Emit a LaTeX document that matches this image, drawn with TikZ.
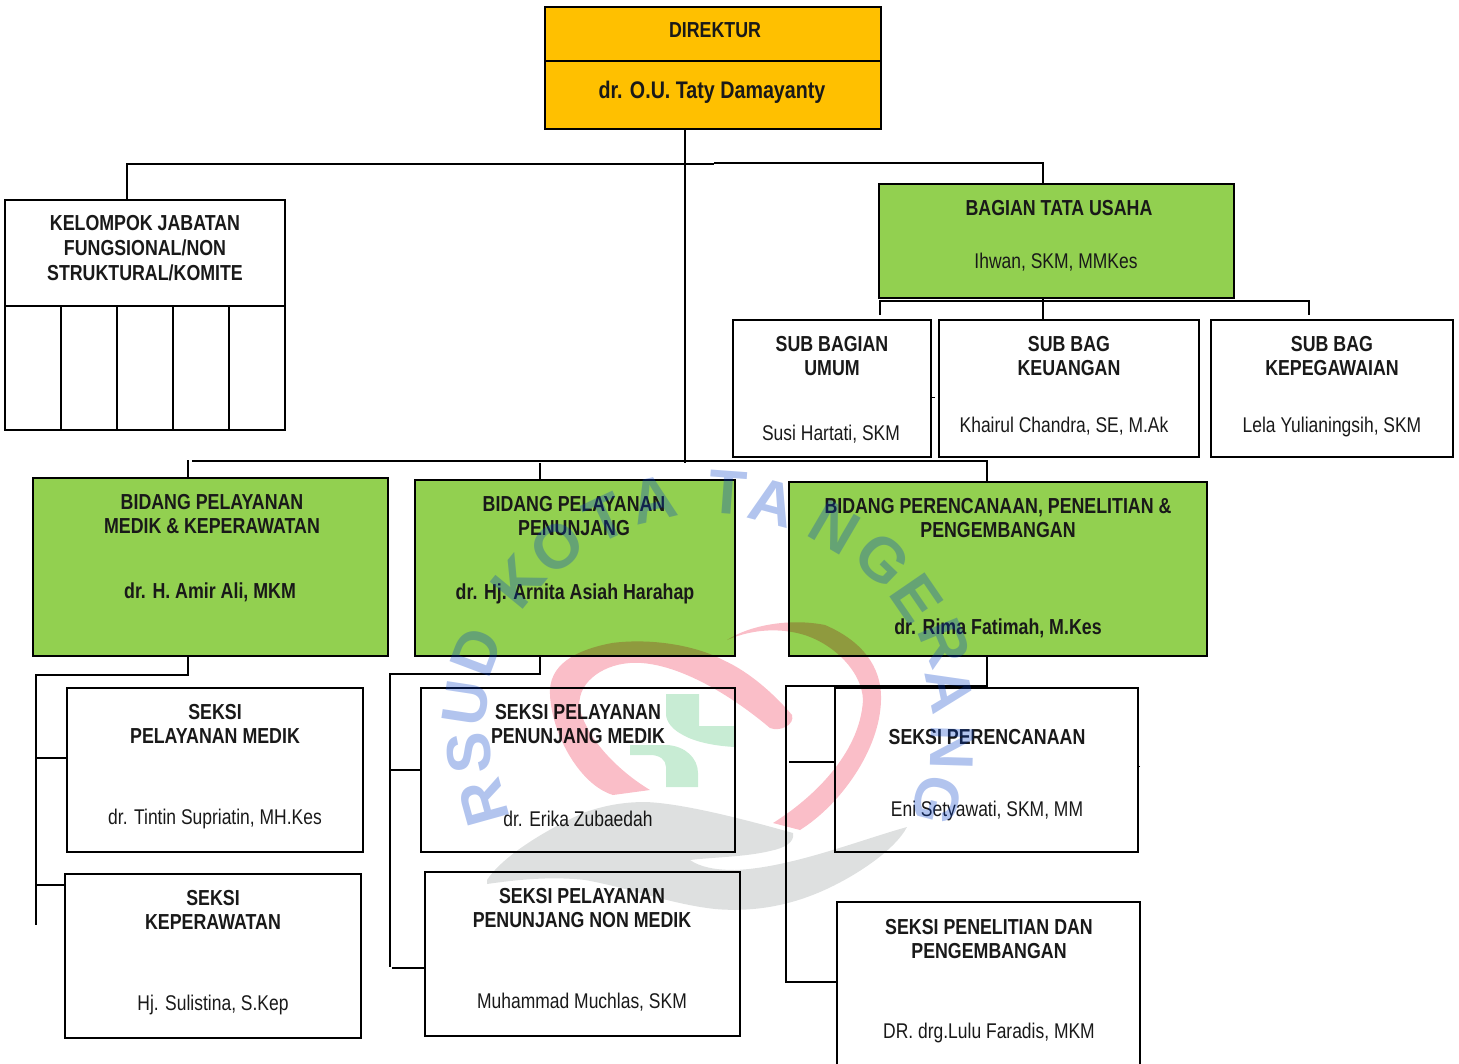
\documentclass[tikz,border=0pt]{standalone}
\usepackage{fontspec}
\setmainfont[FakeStretch=0.82]{Liberation Sans}
\newfontfamily\wmfont{Liberation Sans}
\definecolor{gold}{RGB}{255,192,0}
\definecolor{leaf}{RGB}{146,208,80}
\definecolor{wmblue}{RGB}{0,60,200}
\definecolor{wmred}{RGB}{250,190,200}
\definecolor{wmgreen}{RGB}{200,236,212}
\definecolor{wmgray}{RGB}{222,224,224}
\usetikzlibrary{calc}
\tikzset{
  x=1pt,y=-1pt,
  boxn/.style={draw=black,line width=2pt,inner sep=0pt,outer sep=0pt,rectangle},
  link/.style={draw=black,line width=2pt},
  head/.style={font=\bfseries\fontsize{21.7}{24.7}\selectfont,align=center,inner sep=0pt,text=black!90},
  body/.style={font=\fontsize{21.3}{24.7}\selectfont,align=center,inner sep=0pt,text=black!90},
  big/.style={font=\bfseries\fontsize{24}{26}\selectfont,align=center,inner sep=0pt,text=black!90},
  wml/.style={font=\wmfont\bfseries\fontsize{62}{62}\selectfont,text=wmblue,text opacity=0.3,inner sep=0pt},
}
\newcommand{\bx}[6]{%
  \pgfmathsetmacro{\bw}{#4-#2}\pgfmathsetmacro{\bh}{#5-#3}%
  \pgfmathsetmacro{\bcx}{(#2+#4)/2}\pgfmathsetmacro{\bcy}{(#3+#5)/2}%
  \node[boxn,minimum width=\bw pt,minimum height=\bh pt,#6] (#1) at (\bcx,\bcy) {};}
\begin{document}
\begin{tikzpicture}
\useasboundingbox (0,0) rectangle (1459,1063);
% boxes
\bx{dir}{545}{7}{881}{129}{fill=gold}
\bx{kel}{5}{200}{285}{430}{}
\bx{btu}{879}{184}{1234}{298}{fill=leaf}
\bx{sbu}{733}{320}{931}{457}{}
\bx{keu}{939}{320}{1199}{457}{}
\bx{kep}{1211}{320}{1453}{457}{}
\bx{bm}{33}{478}{388}{656}{fill=leaf}
\bx{bp}{415}{480}{735}{656}{fill=leaf}
\bx{bpp}{789}{482}{1207}{656}{fill=leaf}
\bx{sa}{67}{688}{363}{852}{}
\bx{sb}{65}{874}{361}{1038}{}
\bx{sc}{421}{688}{735}{852}{}
\bx{sd}{425}{872}{740}{1036}{}
\bx{se}{835}{688}{1138}{852}{}
\bx{sf}{837}{902}{1140}{1067}{}
% dividers
\draw[link] (545,61) -- (881,61);
\draw[link] (5,306) -- (285,306);
\foreach \vx in {61,117,173,229} \draw[link] (\vx,306) -- (\vx,430);
% connector coordinates
\coordinate (tk) at (685,164);
\coordinate (tkend) at (685,463);
\coordinate (lft) at (127,164);
\coordinate (mid) at (714,164);
\coordinate (midb) at (714,163);
\coordinate (rgt) at (1043,163);
\coordinate (ua) at (880,301);
\coordinate (ub) at (1043,301);
\coordinate (uc) at (1309,301);
\coordinate (uae) at (880,315);
\coordinate (uce) at (1309,315);
\coordinate (ba) at (188,460);
\coordinate (bb) at (192,461);
\coordinate (bc) at (540,463);
\coordinate (bd) at (987,461);
\coordinate (ma) at (188,675);
\coordinate (mb) at (36,675);
\coordinate (mc) at (36,925);
\coordinate (md) at (36,758);
\coordinate (me) at (36,885);
\coordinate (pa) at (540,674);
\coordinate (pb) at (390,674);
\coordinate (pc) at (390,967);
\coordinate (pd) at (390,770);
\coordinate (pe) at (392,968);
\coordinate (ra) at (987,686);
\coordinate (rb) at (786,686);
\coordinate (rc) at (786,982);
\coordinate (rd) at (789,762);
% connectors
\draw[link,line width=1.2pt] (dir.south -| tk) -- (tkend);
\draw[link] (kel.north -| lft) -- (lft) -- (mid);
\draw[link] (midb) -- (rgt) -- (btu.north -| rgt);
\draw[link] (btu.south -| ub) -- (keu.north -| ub);
\draw[link] (uae) -- (ua) -- (uc) -- (uce);
\draw[link] (ba) -- (bm.north -| ba);
\draw[link] (bb) -- (bd) -- (bpp.north -| bd);
\draw[link] (bc) -- (bp.north -| bc);
\draw[link] (bm.south -| ma) -- (ma) -- (mb) -- (mc);
\draw[link] (md) -- (sa.west |- md);
\draw[link] (me) -- (sb.west |- me);
\draw[link] (bp.south -| pa) -- (pa) -- (pb) -- (pc);
\draw[link] (pd) -- (sc.west |- pd);
\draw[link] (pe) -- (sd.west |- pe);
\draw[link] (bpp.south -| ra) -- (ra) -- (rb) -- (rc) -- (sf.west |- rc);
\draw[link] (rd) -- (se.west |- rd);
% texts
\node[head] (tdir) at (715,30) {DIREKTUR};
\node[big] (tdirn) at (712,92) {dr. O.U. Taty Damayanty};
\node[head] (tkel) at (145,248) {KELOMPOK JABATAN\\FUNGSIONAL/NON\\STRUKTURAL/KOMITE};
\node[head] (tbtu) at (1059,208) {BAGIAN TATA USAHA};
\node[body] (tbtun) at (1056,262.5) {Ihwan, SKM, MMKes};
\node[head] (tsbu) at (832,356) {SUB BAGIAN\\UMUM};
\node[body] (tsbun) at (831,434.5) {Susi Hartati, SKM};
\node[head] (tkeu) at (1069,356) {SUB BAG\\KEUANGAN};
\node[body] (tkeun) at (1064,426.5) {Khairul Chandra, SE, M.Ak};
\node[head] (tkep) at (1332,356) {SUB BAG\\KEPEGAWAIAN};
\node[body] (tkepn) at (1332,426.5) {Lela Yulianingsih, SKM};
\node[head] (tbm) at (212,514) {BIDANG PELAYANAN\\MEDIK \& KEPERAWATAN};
\node[head] (tbmn) at (210,592) {dr. H. Amir Ali, MKM};
\node[head] (tbp) at (574,516) {BIDANG PELAYANAN\\PENUNJANG};
\node[head] (tbpn) at (575,594) {dr. Hj. Arnita Asiah Harahap};
\node[head] (tbpp) at (998,518) {BIDANG PERENCANAAN, PENELITIAN \&\\PENGEMBANGAN};
\node[head] (tbppn) at (998,628) {dr. Rima Fatimah, M.Kes};
\node[head] (tsa) at (215,724) {SEKSI\\PELAYANAN MEDIK};
\node[body] (tsan) at (215,818.5) {dr. Tintin Supriatin, MH.Kes};
\node[head] (tsb) at (213,910) {SEKSI\\KEPERAWATAN};
\node[body] (tsbn) at (213,1004.5) {Hj. Sulistina, S.Kep};
\node[head] (tsc) at (578,724) {SEKSI PELAYANAN\\PENUNJANG MEDIK};
\node[body] (tscn) at (578,818.5) {dr. Erika Zubaedah};
\node[head] (tsd) at (582,908) {SEKSI PELAYANAN\\PENUNJANG NON MEDIK};
\node[body] (tsdn) at (582,1002.5) {Muhammad Muchlas, SKM};
\node[head] (tse) at (987,737) {SEKSI PERENCANAAN};
\node[body] (tsen) at (987,810.5) {Eni Setyawati, SKM, MM};
\node[head] (tsf) at (989,939) {SEKSI PENELITIAN DAN\\PENGEMBANGAN};
\node[body] (tsfn) at (989,1032.5) {DR. drg.Lulu Faradis, MKM};
% watermark
\begin{scope}[blend mode=multiply]
\fill[wmgray] (487,880) .. controls (500,860) and (535,835) .. (583,813)
  .. controls (605,805) and (625,802) .. (645,802)
  .. controls (680,803) and (740,818) .. (793,833)
  .. controls (795,842) and (785,848) .. (770,851)
  .. controls (745,857) and (715,857) .. (690,860)
  .. controls (700,867) and (715,870) .. (735,870)
  .. controls (790,868) and (860,840) .. (907,827)
  .. controls (895,850) and (855,877) .. (820,892)
  .. controls (785,907) and (750,912) .. (715,909)
  .. controls (670,904) and (630,888) .. (585,880)
  .. controls (550,876) and (515,880) .. (487,884) -- cycle;
\fill[wmgreen] (666,694) -- (699,694) -- (699,726) -- (735,726) -- (735,747)
  .. controls (715,746) and (695,742) .. (683,735)
  .. controls (673,730) and (666,722) .. (666,714) -- cycle;
\fill[wmgreen] (630,745) -- (667,745) .. controls (685,746) and (698,758) .. (698,773)
  -- (698,787) -- (666,787) -- (666,767) .. controls (666,760) and (660,755) .. (650,755)
  -- (630,755) -- cycle;
\fill[wmred] (792,715) .. controls (775,695) and (750,672) .. (723,660)
  .. controls (695,645) and (650,638) .. (612,643)
  .. controls (575,650) and (548,665) .. (550,695)
  .. controls (552,735) and (580,785) .. (613,795)
  -- (650,790) .. controls (625,775) and (590,745) .. (580,710)
  .. controls (575,685) and (600,665) .. (630,663)
  .. controls (670,660) and (725,690) .. (770,728)
  .. controls (780,732) and (795,725) .. (792,715) -- cycle;
\fill[wmred] (727,640) .. controls (750,625) and (790,618) .. (825,625)
  .. controls (860,640) and (882,665) .. (881,700)
  .. controls (880,750) and (840,805) .. (800,830)
  -- (773,823) .. controls (810,800) and (860,755) .. (863,700)
  .. controls (862,670) and (830,640) .. (797,633)
  .. controls (775,628) and (750,630) .. (727,640) -- cycle;
\end{scope}
\foreach \ch/\px/\py/\nm in {R/484/803/wa,S/469/753/wb,U/466/703/wc,D/476/652/wd,K/518/582/we,O/557/547/wf,T/605/518/wg,A/653/500/wh,T/728/493/wi,A/773/503/wj,N/835/527/wk,G/883/560/wl,E/917/598/wm,R/945/643/wn,A/950/690/wo,N/952/747/wp,G/937/800/wq}{
  \pgfmathsetmacro{\rt}{atan2(710-\px,740-\py)}
  \node[wml,rotate=\rt] (\nm) at (\px,\py) {\ch};
}
% small ticks
\coordinate (ti) at (935,397);
\coordinate (tj) at (1140,766);
\draw[black,line width=1pt] (ti) -- (sbu.east |- ti);
\draw[black,line width=1pt] (tj) -- (se.east |- tj);
\end{tikzpicture}
\end{document}
